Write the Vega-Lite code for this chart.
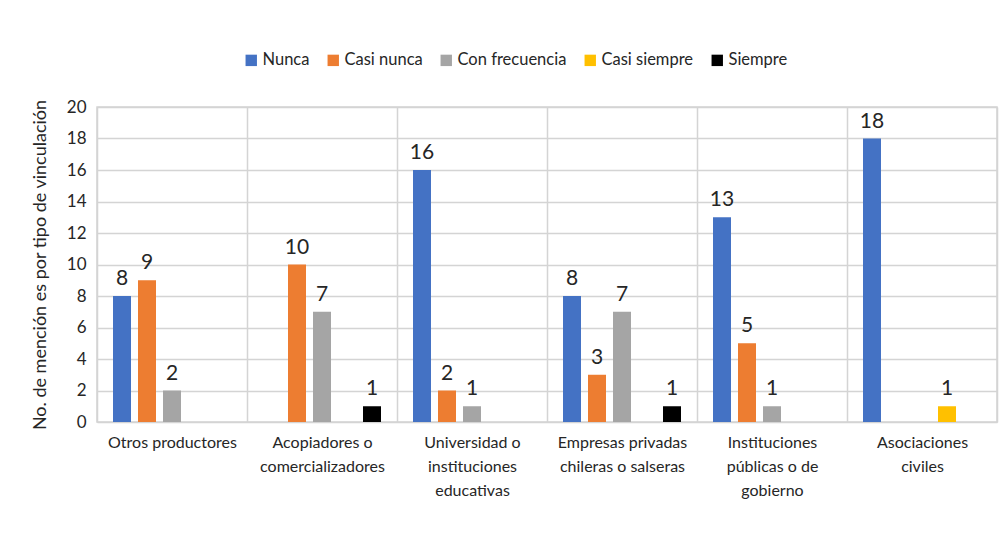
{
  "$schema": "https://vega.github.io/schema/vega-lite/v6.json",
  "width": 900,
  "height": 315,
  "autosize": "none",
  "padding": {"left": 97, "top": 107, "right": 11, "bottom": 118},
  "background": "white",
  "config": {
    "font": "Lato",
    "view": {"stroke": "#d4d4d4", "strokeWidth": 1.5},
    "axis": {"labelFont": "Lato", "titleFont": "Lato", "labelColor": "#262626", "titleColor": "#262626"}
  },
  "data": {
    "values": [
      {"categoria": "Otros productores", "frecuencia": "Nunca", "menciones": 8},
      {"categoria": "Otros productores", "frecuencia": "Casi nunca", "menciones": 9},
      {"categoria": "Otros productores", "frecuencia": "Con frecuencia", "menciones": 2},
      {"categoria": "Acopiadores o\ncomercializadores", "frecuencia": "Casi nunca", "menciones": 10},
      {"categoria": "Acopiadores o\ncomercializadores", "frecuencia": "Con frecuencia", "menciones": 7},
      {"categoria": "Acopiadores o\ncomercializadores", "frecuencia": "Siempre", "menciones": 1},
      {"categoria": "Universidad o\ninstituciones\neducativas", "frecuencia": "Nunca", "menciones": 16},
      {"categoria": "Universidad o\ninstituciones\neducativas", "frecuencia": "Casi nunca", "menciones": 2},
      {"categoria": "Universidad o\ninstituciones\neducativas", "frecuencia": "Con frecuencia", "menciones": 1},
      {"categoria": "Empresas privadas\nchileras o salseras", "frecuencia": "Nunca", "menciones": 8},
      {"categoria": "Empresas privadas\nchileras o salseras", "frecuencia": "Casi nunca", "menciones": 3},
      {"categoria": "Empresas privadas\nchileras o salseras", "frecuencia": "Con frecuencia", "menciones": 7},
      {"categoria": "Empresas privadas\nchileras o salseras", "frecuencia": "Siempre", "menciones": 1},
      {"categoria": "Instituciones\npúblicas o de\ngobierno", "frecuencia": "Nunca", "menciones": 13},
      {"categoria": "Instituciones\npúblicas o de\ngobierno", "frecuencia": "Casi nunca", "menciones": 5},
      {"categoria": "Instituciones\npúblicas o de\ngobierno", "frecuencia": "Con frecuencia", "menciones": 1},
      {"categoria": "Asociaciones\nciviles", "frecuencia": "Nunca", "menciones": 18},
      {"categoria": "Asociaciones\nciviles", "frecuencia": "Casi siempre", "menciones": 1}
    ]
  },
  "encoding": {
    "x": {
      "field": "categoria",
      "type": "nominal",
      "sort": null,
      "scale": {"paddingInner": 0, "paddingOuter": 0},
      "axis": {
        "title": null,
        "labelAngle": 0,
        "labelExpr": "split(datum.label, '\\n')",
        "labelFontSize": 16,
        "labelLineHeight": 24,
        "labelPadding": 12,
        "labelLimit": 200,
        "ticks": false,
        "domain": false,
        "grid": true,
        "tickBand": "extent",
        "gridColor": "#d4d4d4",
        "gridWidth": 1.5
      }
    },
    "xOffset": {
      "field": "frecuencia",
      "type": "nominal",
      "sort": ["Nunca", "Casi nunca", "Con frecuencia", "Casi siempre", "Siempre"],
      "scale": {"domain": ["Nunca", "Casi nunca", "Con frecuencia", "Casi siempre", "Siempre"], "paddingInner": 0.28, "paddingOuter": 0.64}
    },
    "y": {
      "field": "menciones",
      "type": "quantitative",
      "scale": {"domain": [0, 20]},
      "axis": {
        "title": "No. de mención es por tipo de vinculación",
        "titleFontSize": 18,
        "titleFontWeight": "normal",
        "titlePadding": 17,
        "values": [0, 2, 4, 6, 8, 10, 12, 14, 16, 18, 20],
        "labelFontSize": 17,
        "labelPadding": 11,
        "ticks": false,
        "domain": false,
        "gridColor": "#d4d4d4",
        "gridWidth": 1.5
      }
    }
  },
  "layer": [
    {
      "mark": {"type": "bar"},
      "encoding": {
        "color": {
          "field": "frecuencia",
          "type": "nominal",
          "sort": ["Nunca", "Casi nunca", "Con frecuencia", "Casi siempre", "Siempre"],
          "scale": {
            "domain": ["Nunca", "Casi nunca", "Con frecuencia", "Casi siempre", "Siempre"],
            "range": ["#4472C4", "#ED7D31", "#A5A5A5", "#FFC000", "#000000"]
          },
          "legend": {
            "title": null,
            "orient": "none",
            "direction": "horizontal",
            "legendX": 146,
            "legendY": -55,
            "symbolType": "square",
            "symbolSize": 130,
            "symbolStrokeWidth": 0,
            "labelFontSize": 16.5,
            "labelFont": "Lato",
            "labelColor": "#262626",
            "labelOffset": 3,
            "columnPadding": 15
          }
        }
      }
    },
    {
      "mark": {"type": "text", "baseline": "bottom", "dy": -7, "fontSize": 21, "color": "#262626"},
      "encoding": {
        "text": {"field": "menciones", "type": "quantitative"}
      }
    }
  ]
}
